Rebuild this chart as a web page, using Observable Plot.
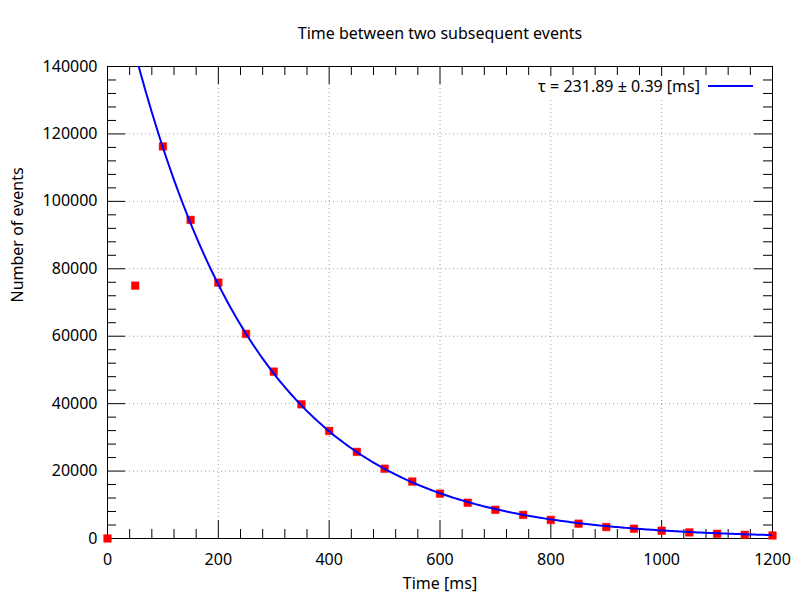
<!DOCTYPE html>
<html>
<head>
<meta charset="utf-8">
<script src="https://cdn.jsdelivr.net/npm/d3@7"></script>
<script src="https://cdn.jsdelivr.net/npm/@observablehq/plot@0.6"></script>
<style>
  html, body { margin: 0; padding: 0; background: #fff; }
  svg { display: block; }
</style>
</head>
<body>
<div id="chart"></div>
<script>
// ---- data ----
const titleText = "Time between two subsequent events";
const xLabel = "Time [ms]";
const yLabel = "Number of events";
const legendLabel = "τ = 231.89 ± 0.39 [ms]";

const times  = [0, 50, 100, 150, 200, 250, 300, 350, 400, 450, 500, 550, 600,
                650, 700, 750, 800, 850, 900, 950, 1000, 1050, 1100, 1150, 1200];
const counts = [0, 75000, 116300, 94500, 75900, 60700, 49500, 39800, 31900, 25700, 20700, 16900, 13300,
                10600, 8500, 7000, 5500, 4400, 3400, 2900, 2300, 1800, 1400, 1100, 900];

// fitted exponential: N(t) = A * exp(-t / tau)
const fitTau = 231.89;
const fitAmplitude = 178500;

const xMajorTicks = [0, 200, 400, 600, 800, 1000, 1200];
const yMajorTicks = [0, 20000, 40000, 60000, 80000, 100000, 120000, 140000];
const xMinorTicks = d3.range(0, 1201, 40).filter(v => v % 200 !== 0);
const yMinorTicks = d3.range(0, 140001, 4000).filter(v => v % 20000 !== 0);

const points = times.map((t, i) => ({t, n: counts[i]}));
const fitCurve = d3.range(0, 1201, 4).map(t => ({t, n: fitAmplitude * Math.exp(-t / fitTau)}));

// ---- layout ----
const W = 800, H = 600;
const mL = 107, mR = 28, mT = 66, mB = 62;
const pw = W - mL - mR, ph = H - mT - mB;
const majorLen = 18, minorLen = 9;
const tickStyle = {stroke: "black", strokeWidth: 1};

const legendMark = (index, scales, values, dims) => {
  const g = d3.create("svg:g");
  const xr = dims.width - dims.marginRight;
  g.append("rect").attr("x", xr - 243).attr("y", 76).attr("width", 232).attr("height", 21).attr("fill", "white");
  g.append("text").attr("x", xr - 72).attr("y", 86).attr("dy", "0.35em")
    .attr("text-anchor", "end").attr("fill", "black").attr("font-size", 16).text(legendLabel);
  g.append("line").attr("x1", xr - 64).attr("x2", xr - 19).attr("y1", 86).attr("y2", 86)
    .attr("stroke", "#0000ff").attr("stroke-width", 2);
  return g.node();
};

const chart = Plot.plot({
  width: W, height: H,
  marginLeft: mL, marginRight: mR, marginTop: mT, marginBottom: mB,
  style: {fontFamily: "'Noto Sans', sans-serif", fontSize: "16px", color: "black", background: "white"},
  x: {domain: [0, 1200]},
  y: {domain: [0, 140000]},
  marks: [
    Plot.gridX(xMajorTicks.slice(1, -1), {stroke: "#a0a0a0", strokeOpacity: 1, strokeDasharray: "1,3", insetTop: majorLen, insetBottom: majorLen}),
    Plot.gridY(yMajorTicks.slice(1, -1), {stroke: "#a0a0a0", strokeOpacity: 1, strokeDasharray: "1,3", insetLeft: majorLen, insetRight: majorLen}),
    Plot.frame({stroke: "black", strokeWidth: 1}),
    // inward ticks on all four sides
    Plot.tickX(xMajorTicks, {x: d => d, insetTop: ph - majorLen, ...tickStyle}),
    Plot.tickX(xMajorTicks, {x: d => d, insetBottom: ph - majorLen, ...tickStyle}),
    Plot.tickX(xMinorTicks, {x: d => d, insetTop: ph - minorLen, ...tickStyle}),
    Plot.tickX(xMinorTicks, {x: d => d, insetBottom: ph - minorLen, ...tickStyle}),
    Plot.tickY(yMajorTicks, {y: d => d, insetRight: pw - majorLen, ...tickStyle}),
    Plot.tickY(yMajorTicks, {y: d => d, insetLeft: pw - majorLen, ...tickStyle}),
    Plot.tickY(yMinorTicks, {y: d => d, insetRight: pw - minorLen, ...tickStyle}),
    Plot.tickY(yMinorTicks, {y: d => d, insetLeft: pw - minorLen, ...tickStyle}),
    Plot.axisX(xMajorTicks, {anchor: "bottom", tickSize: 0, tickPadding: 15, fontSize: 16, label: null, tickFormat: d => String(d)}),
    Plot.axisY(yMajorTicks, {anchor: "left", tickSize: 0, tickPadding: 10, fontSize: 16, label: null, tickFormat: d => String(d)}),
    // labels and title
    Plot.text([titleText], {frameAnchor: "top", dy: -39, fontSize: 16, fill: "black"}),
    Plot.text([xLabel], {frameAnchor: "bottom", dy: 50, fontSize: 16, fill: "black"}),
    Plot.text([yLabel], {frameAnchor: "left", dx: -90, rotate: -90, fontSize: 16, fill: "black"}),
    legendMark,
    // data
    Plot.dot(points, {x: "t", y: "n", symbol: "square", r: 4.3, fill: "#ff0000", stroke: "#ff0000", strokeOpacity: 0.45, strokeWidth: 1}),
    Plot.line(fitCurve, {x: "t", y: "n", stroke: "#0000ff", strokeWidth: 2, clip: true})
  ]
});
document.getElementById("chart").appendChild(chart);
</script>
</body>
</html>
